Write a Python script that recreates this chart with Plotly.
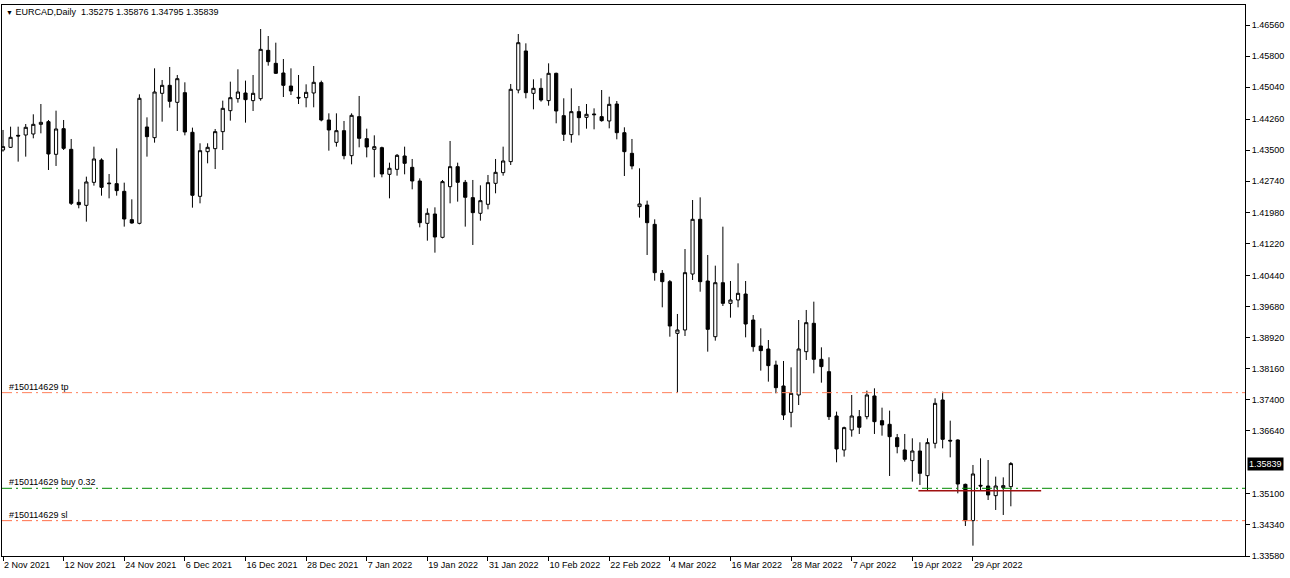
import plotly.graph_objects as go

# ---- data (EURCAD daily) ----
opens = [1.43505,1.43570,1.43863,1.43871,1.43896,1.44132,1.44197,1.43399,1.44026,1.43521,
         1.42225,1.42152,1.42714,1.43260,1.42698,1.42682,1.42494,1.41802,1.41712,1.44067,
         1.43806,1.44890,1.45085,1.44670,1.44906,1.43937,1.42372,1.43464,1.43537,1.43953,
         1.44466,1.44760,1.44898,1.44711,1.44760,1.45941,1.45623,1.45387,1.45069,1.44792,
         1.44784,1.44898,1.45151,1.44238,1.43692,1.43977,1.43366,1.44320,1.43782,1.43521,
         1.43562,1.42910,1.43032,1.43358,1.43081,1.42747,1.41712,1.41940,1.41370,1.42608,
         1.43097,1.42714,1.42340,1.41957,1.42177,1.42690,1.42951,1.43220,1.44971,1.45925,
         1.44890,1.45012,1.44711,1.45379,1.44344,1.43880,1.44442,1.44303,1.44385,1.44320,
         1.44214,1.44629,1.43928,1.43423,1.42120,1.42160,1.41687,1.40490,1.40286,1.39023,
         1.39105,1.40473,1.41810,1.40302,1.38941,1.40261,1.39756,1.39838,1.39984,1.39349,
         1.38714,1.38640,1.38249,1.37736,1.37092,1.37516,1.38575,1.39268,1.38388,1.38086,
         1.37003,1.36172,1.36661,1.36986,1.36986,1.37492,1.36888,1.36799,1.36473,1.36172,
         1.35911,1.36147,1.35544,1.36335,1.37394,1.36408,1.36416,1.35332,1.34444,1.35308,
         1.35291,1.35055,1.35251,1.35275]
highs = [1.43994,1.44075,1.44075,1.44140,1.44377,1.44629,1.44238,1.44466,1.44238,1.43774,
         1.42543,1.42853,1.43586,1.43301,1.42918,1.43545,1.42706,1.42299,1.44865,1.44303,
         1.45501,1.45216,1.45534,1.45338,1.45159,1.44051,1.43668,1.43668,1.44018,1.44711,
         1.45175,1.45477,1.45200,1.45338,1.46462,1.46291,1.46128,1.45729,1.45501,1.45338,
         1.45110,1.45558,1.45200,1.44401,1.44401,1.44214,1.44401,1.44825,1.44026,1.43863,
         1.43586,1.43195,1.43407,1.43586,1.43285,1.42812,1.42079,1.42103,1.42772,1.43725,
         1.43195,1.42772,1.42772,1.42641,1.42894,1.43285,1.43586,1.45118,1.46340,1.46112,
         1.45232,1.45257,1.45623,1.45395,1.44768,1.45012,1.44580,1.44629,1.44523,1.44971,
         1.44808,1.44702,1.44059,1.43774,1.43057,1.42266,1.41810,1.40571,1.40327,1.39496,
         1.41084,1.42282,1.42347,1.40938,1.40677,1.41630,1.40302,1.40734,1.40302,1.39471,
         1.39146,1.38860,1.38355,1.38347,1.38192,1.39349,1.39594,1.39797,1.38681,1.38437,
         1.37109,1.36742,1.37516,1.37149,1.37622,1.37679,1.37206,1.37133,1.36563,1.36563,
         1.36457,1.36359,1.36457,1.37435,1.37597,1.36888,1.36432,1.35349,1.35805,1.35968,
         1.35927,1.35520,1.35503,1.35876]
lows = [1.43464,1.43555,1.43220,1.43342,1.43790,1.43912,1.43016,1.43114,1.43505,1.42160,
        1.42079,1.41753,1.42633,1.42388,1.42323,1.42388,1.41631,1.41704,1.41688,1.43342,
        1.43684,1.44197,1.44540,1.43969,1.43863,1.42095,1.42201,1.43179,1.43040,1.43505,
        1.44222,1.44662,1.44173,1.44458,1.44711,1.45566,1.45362,1.44800,1.44849,1.44629,
        1.44548,1.44548,1.44205,1.43488,1.43586,1.43277,1.43154,1.43570,1.43325,1.42837,
        1.42837,1.42323,1.42877,1.42910,1.42543,1.41614,1.41288,1.40995,1.41345,1.42201,
        1.42242,1.41631,1.41183,1.41777,1.42054,1.42446,1.42877,1.43138,1.44890,1.44768,
        1.44499,1.44686,1.44588,1.44157,1.43725,1.43684,1.43863,1.44026,1.44010,1.44197,
        1.44034,1.43765,1.42869,1.43032,1.41851,1.40938,1.40310,1.39659,1.38941,1.37573,
        1.38958,1.40327,1.40041,1.38575,1.38844,1.39691,1.39406,1.39659,1.38925,1.38575,
        1.38111,1.37842,1.37557,1.36905,1.36726,1.37271,1.38372,1.38046,1.37817,1.36905,
        1.35870,1.36009,1.36497,1.36563,1.36921,1.36563,1.36522,1.35536,1.36090,1.35886,
        1.35398,1.35316,1.35194,1.36212,1.36212,1.35992,1.35112,1.34314,1.33833,1.35194,
        1.34949,1.34705,1.34583,1.34795]
closes = [1.43586,1.43814,1.43847,1.44059,1.44132,1.44181,1.43407,1.44018,1.43545,1.42201,
          1.42168,1.42723,1.43285,1.42592,1.42682,1.42511,1.41818,1.41720,1.44768,1.43831,
          1.44922,1.45085,1.44694,1.45248,1.43945,1.42397,1.43488,1.43570,1.43953,1.44523,
          1.44784,1.44922,1.44735,1.44890,1.45965,1.45664,1.45379,1.45085,1.44947,1.44776,
          1.44914,1.45159,1.44238,1.43994,1.43977,1.43366,1.44352,1.43790,1.43578,1.43586,
          1.42918,1.43057,1.43374,1.43179,1.42747,1.41728,1.41957,1.41378,1.42731,1.43097,
          1.42714,1.42348,1.41973,1.42266,1.42706,1.42959,1.43236,1.44988,1.46128,1.44906,
          1.45012,1.44727,1.45379,1.44458,1.43888,1.44442,1.44295,1.44377,1.44368,1.44222,
          1.44621,1.43928,1.43464,1.43114,1.42185,1.41728,1.40506,1.40286,1.39202,1.39105,
          1.40506,1.41810,1.40286,1.39121,1.40261,1.39756,1.39838,1.40001,1.39251,1.38697,
          1.38600,1.38233,1.37695,1.37027,1.37557,1.38640,1.39284,1.38388,1.38209,1.36986,
          1.36196,1.36718,1.37003,1.36726,1.37516,1.36864,1.36783,1.36497,1.36253,1.35943,
          1.36147,1.35601,1.36351,1.37312,1.36432,1.36392,1.35340,1.34444,1.35585,1.35291,
          1.35072,1.35291,1.35300,1.35839]

x_tick_labels = ["2 Nov 2021", "12 Nov 2021", "24 Nov 2021", "6 Dec 2021", "16 Dec 2021",
                 "28 Dec 2021", "7 Jan 2022", "19 Jan 2022", "31 Jan 2022", "10 Feb 2022",
                 "22 Feb 2022", "4 Mar 2022", "16 Mar 2022", "28 Mar 2022", "7 Apr 2022",
                 "19 Apr 2022", "29 Apr 2022"]
y_ticks = [1.46560, 1.45800, 1.45040, 1.44260, 1.43500, 1.42740, 1.41980, 1.41220,
           1.40440, 1.39680, 1.38920, 1.38160, 1.37400, 1.36640, 1.35100, 1.34340, 1.33580]

tp_price = 1.37573
buy_price = 1.35235
sl_price = 1.34444
level_price = 1.35177
order_id = "#150114629"
last_price = 1.35839
title_text = "EURCAD,Daily  1.35275 1.35876 1.34795 1.35839"

# ---- figure ----
n = len(opens)
xs = list(range(n))
FONT = "Liberation Sans, Arial, sans-serif"

fig = go.Figure()
fig.add_trace(go.Candlestick(
    x=xs, open=opens, high=highs, low=lows, close=closes,
    increasing=dict(line=dict(color="black", width=1), fillcolor="white"),
    decreasing=dict(line=dict(color="black", width=1), fillcolor="black"),
    whiskerwidth=0, hoverinfo="skip", showlegend=False,
))

x_lo, x_hi = -0.132, 163.9
y_lo, y_hi = 1.3358, 1.47049
DASH = "10px,4px,2px,4px"

shapes = []
for price, color in [(tp_price, "#FF7F5A"), (buy_price, "#008A00"), (sl_price, "#FF6F4A")]:
    shapes.append(dict(type="line", xref="paper", x0=0, x1=1, yref="y", y0=price, y1=price,
                       line=dict(color=color, width=1, dash=DASH), layer="above"))
shapes.append(dict(type="line", xref="x", x0=120.8, x1=137.0, yref="y",
                   y0=level_price, y1=level_price, line=dict(color="#A01010", width=1.5),
                   layer="above"))
fig.update_layout(shapes=shapes)

annotations = [
    dict(xref="paper", yref="paper", x=0.0, y=1.0, xanchor="left", yanchor="top",
         xshift=2, yshift=0,
         text="<span style='font-size:7px'>▼</span> " + title_text,
         showarrow=False, font=dict(family=FONT, size=9, color="black")),
    dict(xref="paper", yref="y", x=0.0, y=tp_price, xanchor="left", yanchor="bottom",
         xshift=5, yshift=-1, text=order_id + " tp", showarrow=False,
         font=dict(family=FONT, size=9, color="black")),
    dict(xref="paper", yref="y", x=0.0, y=buy_price, xanchor="left", yanchor="bottom",
         xshift=5, yshift=-1, text=order_id + " buy 0.32", showarrow=False,
         font=dict(family=FONT, size=9, color="black")),
    dict(xref="paper", yref="y", x=0.0, y=sl_price, xanchor="left", yanchor="bottom",
         xshift=5, yshift=-1, text=order_id + " sl", showarrow=False,
         font=dict(family=FONT, size=9, color="black")),
    dict(xref="paper", yref="y", x=1.0, y=last_price, xanchor="left", yanchor="middle",
         xshift=2, text="%.5f" % last_price, showarrow=False, bgcolor="black",
         borderpad=1, font=dict(family=FONT, size=9, color="white")),
]
fig.update_layout(annotations=annotations)

fig.update_layout(
    width=1290, height=578,
    margin=dict(l=2, r=45, t=5, b=22),
    paper_bgcolor="white", plot_bgcolor="white",
    font=dict(family=FONT, size=9, color="black"),
    showlegend=False,
    xaxis=dict(range=[x_lo, x_hi], rangeslider=dict(visible=False),
               tickvals=list(range(0, 8 * len(x_tick_labels), 8)), ticktext=x_tick_labels,
               ticks="outside", ticklen=4, tickcolor="black", tickwidth=1,
               ticklabelposition="outside right",
               showgrid=False, zeroline=False, showline=True, linecolor="black",
               linewidth=1, mirror=True, tickfont=dict(family=FONT, size=9)),
    yaxis=dict(range=[y_lo, y_hi], side="right", tickvals=y_ticks,
               ticktext=["%.5f" % v for v in y_ticks],
               ticks="outside", ticklen=4, tickcolor="black", tickwidth=1,
               showgrid=False, zeroline=False, showline=True, linecolor="black",
               linewidth=1, mirror=True, tickfont=dict(family=FONT, size=9)),
    boxgap=0.4,
)

fig.write_html("out.html", config={"displayModeBar": False})
